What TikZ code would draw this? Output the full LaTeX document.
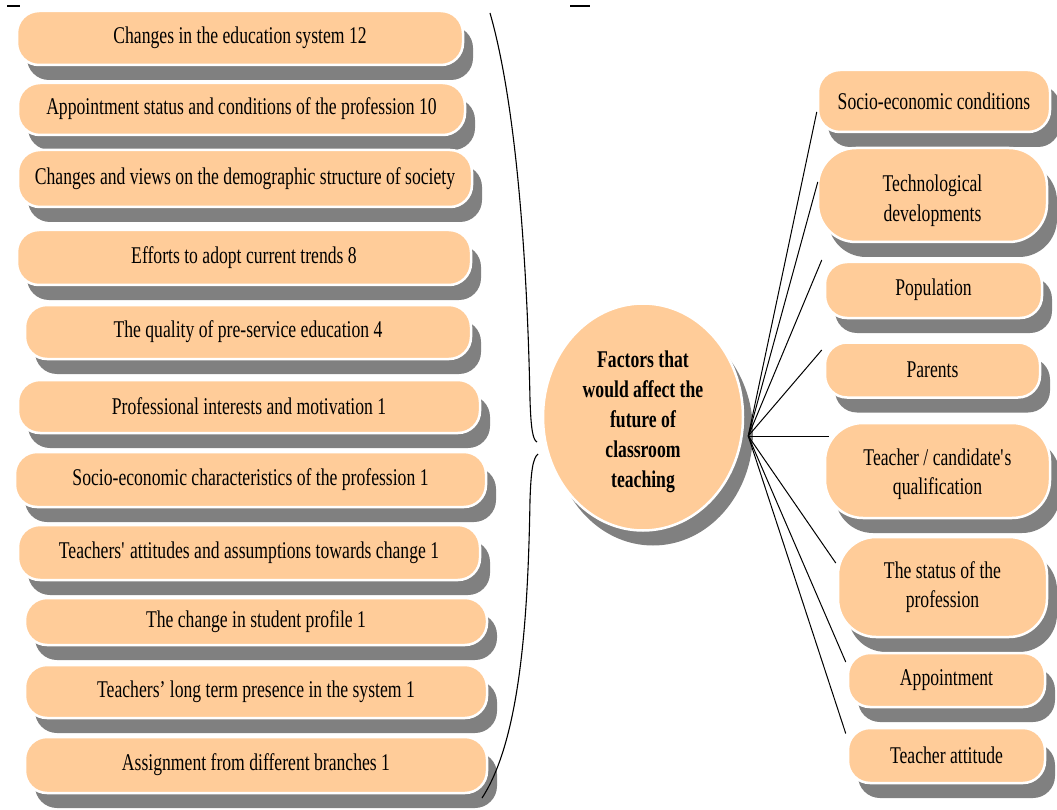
\documentclass[tikz,border=0pt]{standalone}
\usepackage{fontspec}
\setmainfont{Liberation Serif}[FakeStretch=0.735]
\usetikzlibrary{shadows,calc,shapes.geometric}
\definecolor{peach}{RGB}{255,204,153}
\definecolor{shgray}{RGB}{128,128,128}
\tikzset{
  myshadow/.style={drop shadow={shadow xshift=10pt, shadow yshift=-15pt, fill=shgray, opacity=1}},
  fbox/.style={rectangle, rounded corners=22pt, fill=peach, draw=white, line width=2.5pt,
    inner sep=0pt, align=center, font=\fontsize{24}{29.5}\selectfont, myshadow},
  tallbox/.style={fbox, rounded corners=38pt},
  centre/.style={ellipse, fill=peach, draw=white, line width=2.5pt, inner sep=0pt, myshadow},
  centretext/.style={align=center, inner sep=0pt, font=\fontsize{24}{30}\selectfont\bfseries},
  link/.style={line width=1pt, black},
  bracestyle/.style={line width=1.1pt, black},
  tick/.style={line width=1.3pt, black},
}
\begin{document}
\begin{tikzpicture}[x=1pt,y=-1pt]
\useasboundingbox[fill=white] (0,0) rectangle (1057,810);

% top marks
\draw[tick] (7,6) -- (20,6);
\draw[tick] (570,6) -- (590,6);

% left column
\node[fbox, minimum width=446pt, minimum height=54pt] (l1) at (240,38) {Changes in the education system 12};
\node[fbox, minimum width=447pt, minimum height=52pt] (l2) at (241.5,109) {Appointment status and conditions of the profession 10};
\node[fbox, minimum width=454pt, minimum height=57pt] (l3) at (245,178.5) {Changes and views on the demographic structure of society};
\node[fbox, minimum width=454pt, minimum height=55pt] (l4) at (244,257.5) {Efforts to adopt current trends 8};
\node[fbox, minimum width=446pt, minimum height=54pt] (l5) at (248,332) {The quality of pre-service education 4};
\node[fbox, minimum width=462pt, minimum height=53pt] (l6) at (249,406.5) {Professional interests and motivation 1};
\node[fbox, minimum width=471pt, minimum height=55pt] (l7) at (250.5,479.5) {Socio-economic characteristics of the profession 1};
\node[fbox, minimum width=462pt, minimum height=55pt] (l8) at (249,552.5) {Teachers\textquotesingle{} attitudes and assumptions towards change 1};
\node[fbox, minimum width=462pt, minimum height=47pt] (l9) at (256,621.5) {The change in student profile 1};
\node[fbox, minimum width=462pt, minimum height=53pt] (l10) at (256,691.5) {Teachers’ long term presence in the system 1};
\node[fbox, minimum width=462pt, minimum height=56pt] (l11) at (256,765) {Assignment from different branches 1};

% centre
\node[centre, minimum width=200pt, minimum height=227pt] (c) at (643,417) {};
\node[centretext] (ct) at ($(c.center)+(0,5)$)
  {Factors that\\would affect the\\future of\\classroom\\teaching};

% right column
\node[fbox, minimum width=232pt, minimum height=62pt] (r1) at (934,101) {Socio-economic conditions};
\node[tallbox, minimum width=229pt, minimum height=94pt] (r2) at (932.5,195) {\rule{0pt}{28pt}Technological\\developments};
\node[fbox, minimum width=217pt, minimum height=56pt] (r3) at (933.5,290) {Population};
\node[fbox, minimum width=215pt, minimum height=55pt] (r4) at (932.5,370) {Parents};
\node[tallbox, minimum width=225pt, minimum height=95pt] (r5) at (937.5,470.5) {\rule{0pt}{24pt}Teacher / candidate\textquotesingle{}s\\qualification};
\node[tallbox, minimum width=209pt, minimum height=100pt] (r6) at (942.5,587) {The status of the\\profession};
\node[fbox, minimum width=197pt, minimum height=54pt] (r7) at (946.5,680) {Appointment};
\node[fbox, minimum width=197pt, minimum height=55pt] (r8) at (946.5,755.5) {Teacher attitude};

% connectors
\coordinate (hub) at ($(c.east)+(4,19)$);
\draw[link] (hub) -- ($(r1.west)+(0,11)$);
\draw[link] (hub) -- ($(r2.west)+(1,-13)$);
\draw[link] (hub) -- ($(r3.west)+(-2,-30)$);
\draw[link] (hub) -- ($(r4.west)+(-2,-20)$);
\draw[link] (hub) -- ($(r5.west)+(5,-34.5)$);
\draw[link] (hub) -- ($(r6.west)+(-1,-24)$);
\draw[link] (hub) -- ($(r7.west)+(-1,-18)$);
\draw[link] (hub) -- ($(r8.west)+(-1,-22)$);

% brace
\coordinate (bt) at (490,13);
\coordinate (bu) at (537,442);
\coordinate (bl) at (538,454);
\coordinate (bb) at (482,798);
\draw[bracestyle] (bt) .. controls (515,100) and (527,250) .. (530,400)
  .. controls (531,430) and (533,440) .. (bu);
\draw[bracestyle] (bl) .. controls (533,458) and (531,470) .. (530,500)
  .. controls (528,620) and (520,740) .. (bb);
\end{tikzpicture}
\end{document}
